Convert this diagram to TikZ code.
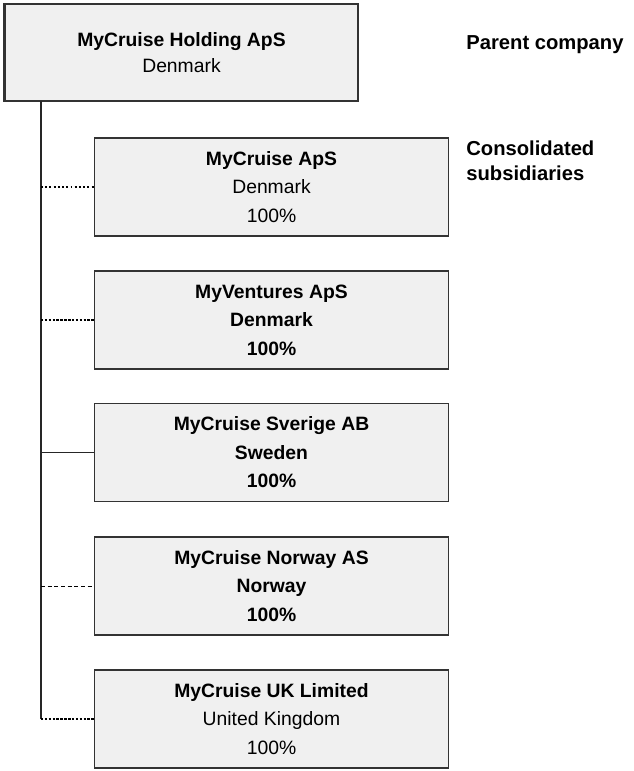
\documentclass[tikz,border=0pt]{standalone}
\usepackage{fontspec}
\setmainfont{Liberation Sans}
\definecolor{boxfill}{rgb}{0.94,0.94,0.94}
\definecolor{boxline}{rgb}{0.2,0.2,0.2}
\tikzset{
	entity/.style={draw=boxline,fill=boxfill,line width=0.6pt,inner sep=0pt,
		minimum width=7.1cm,minimum height=1.96cm,align=center,
		font=\fontsize{11}{16.2}\selectfont},
	entitybold/.style={entity,font=\fontsize{11}{16.2}\selectfont\bfseries},
	legend/.style={anchor=west,align=left,inner sep=0pt,
		font=\fontsize{11.5}{14.2}\selectfont\bfseries},
	trunkline/.style={line width=0.6pt,color=black!85},
	dotlink/.style={line width=1.1pt,dash pattern=on 1.1pt off 1.3pt},
	densedotlink/.style={line width=0.9pt,dash pattern=on 1.4pt off 0.8pt},
	dashlink/.style={line width=0.45pt,dash pattern=on 2.2pt off 1.6pt}
}
\begin{document}
\begin{tikzpicture}[x=0.02cm,y=-0.02cm,line cap=butt,line join=miter]
	\useasboundingbox (0,0) rectangle (633,771);
	% parent
	\node[entity,minimum width=7.06cm,minimum height=1.94cm,line width=0.9pt,
		font=\fontsize{11}{14.7}\selectfont] (holding) at (181.5,52.5)
		{\textbf{MyCruise Holding ApS}\\Denmark};
	\draw[line width=1.7pt,color=boxline] (holding.north west) -- (holding.south west);
	% subsidiaries
	\node[entity] (aps) at (271.5,187) {\textbf{MyCruise ApS}\\Denmark\\100\%};
	\node[entitybold] (ventures) at (271.5,320) {MyVentures ApS\\Denmark\\100\%};
	\node[entitybold] (sverige) at (271.5,452.5) {MyCruise Sverige AB\\Sweden\\100\%};
	\node[entitybold] (norway) at (271.5,586) {MyCruise Norway AS\\Norway\\100\%};
	\node[entity] (uk) at (271.5,719) {\textbf{MyCruise UK Limited}\\United Kingdom\\100\%};
	% legend
	\node[legend] (parentlbl) at (466,45) {Parent company};
	\node[legend] (subslbl) at (466,161) {Consolidated\\subsidiaries};
	% trunk and links
	\coordinate (trunk) at (41,101);
	\coordinate (trunkend) at (trunk |- uk.west);
	\draw[trunkline] (trunk) -- (trunkend);
	\draw[dotlink] (trunk |- aps.west) -- (aps.west);
	\draw[densedotlink] (trunk |- ventures.west) -- (ventures.west);
	\draw[trunkline] (trunk |- sverige.west) -- (sverige.west);
	\draw[dashlink] (trunk |- norway.west) -- (norway.west);
	\draw[densedotlink] (trunkend) -- (uk.west);
\end{tikzpicture}
\end{document}
